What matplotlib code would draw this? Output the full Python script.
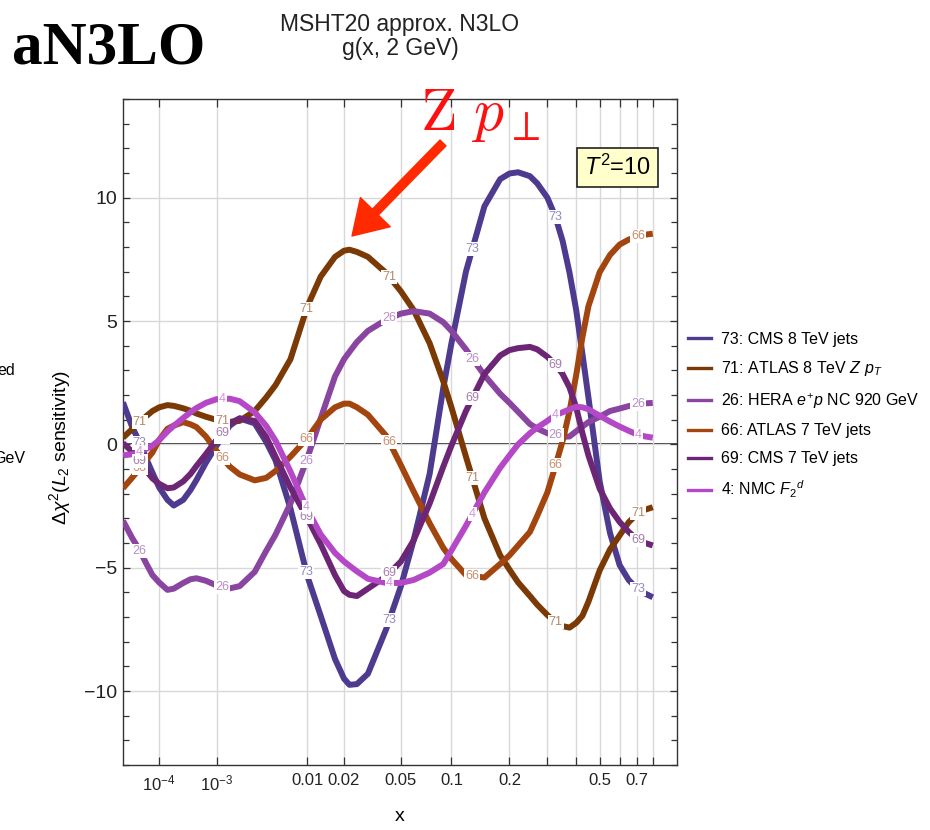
import numpy as np
import matplotlib
matplotlib.use("Agg")
import matplotlib.pyplot as plt
from matplotlib.lines import Line2D
from matplotlib.ticker import MultipleLocator
from matplotlib.colors import to_rgb

plt.rcParams['font.family'] = ['Liberation Sans', 'DejaVu Sans']
plt.rcParams['mathtext.fontset'] = 'custom'
plt.rcParams['mathtext.rm'] = 'Liberation Sans'
plt.rcParams['mathtext.it'] = 'Liberation Sans:italic'
plt.rcParams['mathtext.bf'] = 'Liberation Sans:bold'

# x grid shared by all curves
x = [1e-5, 2e-5, 3e-5, 5e-5, 7e-5, 1e-4, 1.5e-4, 2e-4, 3e-4, 4e-4, 5e-4, 7e-4,
     1e-3, 1.5e-3, 2e-3, 3e-3, 4e-3, 5e-3, 7e-3, 0.01, 0.013, 0.017, 0.02, 0.022,
     0.025, 0.03, 0.04, 0.05, 0.06, 0.075, 0.09, 0.1, 0.12, 0.15, 0.18, 0.2,
     0.22, 0.25, 0.27, 0.3, 0.325, 0.35, 0.375, 0.4, 0.425, 0.45, 0.5, 0.55,
     0.6, 0.65, 0.7, 0.75, 0.8]

# delta chi^2 (L2 sensitivity) per dataset
cms8 = [1.7, 0.7, 0.2, -0.6, -1.15, -1.75, -2.25, -2.48, -2.25, -1.85, -1.45, -0.75,
        -0.05, 0.75, 1.05, 0.85, 0.1, -0.65, -2.6, -5.35, -6.95, -8.7, -9.5, -9.75,
        -9.72, -9.3, -7.5, -5.75, -3.9, -1.2, 2.3, 4.1, 7.0, 9.65, 10.75, 10.98,
        11.03, 10.87, 10.58, 10.0, 9.25, 8.25, 6.95, 5.45, 3.66, 1.9, -1.5, -3.6,
        -4.9, -5.5, -5.85, -6.05, -6.2]
atlas8_zpt = [0.27, 0.62, 0.85, 1.15, 1.35, 1.5, 1.59, 1.56, 1.46, 1.36, 1.25, 1.12,
              0.99, 0.91, 0.95, 1.35, 1.9, 2.4, 3.45, 5.6, 6.8, 7.6, 7.85, 7.89,
              7.8, 7.6, 6.95, 6.2, 5.45, 4.1, 2.55, 1.5, -0.5, -3.0, -4.5, -5.08,
              -5.6, -6.15, -6.5, -6.92, -7.2, -7.37, -7.43, -7.24, -6.95, -6.38, -5.11, -4.26,
              -3.69, -3.16, -2.82, -2.65, -2.55]
hera = [-3.1, -3.8, -4.2, -4.85, -5.3, -5.6, -5.9, -5.85, -5.62, -5.47, -5.43, -5.53,
        -5.72, -5.84, -5.75, -5.17, -4.32, -3.66, -2.4, -0.55, 1.05, 2.75, 3.45, 3.75,
        4.15, 4.6, 5.05, 5.3, 5.4, 5.3, 4.95, 4.6, 3.85, 2.8, 2.05, 1.68,
        1.32, 0.82, 0.64, 0.45, 0.37, 0.3, 0.32, 0.53, 0.72, 0.9, 1.12, 1.35,
        1.45, 1.55, 1.62, 1.66, 1.68]
atlas7 = [-1.78, -1.35, -1.05, -0.63, -0.33, 0.18, 0.63, 0.76, 0.9, 0.81, 0.7, 0.32,
          -0.27, -0.9, -1.22, -1.46, -1.36, -1.08, -0.5, 0.25, 1.0, 1.5, 1.65, 1.65,
          1.5, 1.2, 0.35, -0.85, -1.9, -3.2, -4.2, -4.65, -5.3, -5.4, -4.85, -4.5,
          -4.1, -3.55, -2.9, -1.95, -0.9, 0.13, 1.35, 2.8, 4.35, 5.6, 6.98, 7.68,
          8.1, 8.3, 8.42, 8.5, 8.54]
cms7 = [0.05, -0.3, -0.58, -1.08, -1.38, -1.6, -1.78, -1.75, -1.5, -1.2, -0.88, -0.4,
        0.18, 0.85, 1.05, 0.95, 0.3, -0.5, -1.75, -3.0, -4.05, -5.3, -5.95, -6.1,
        -6.15, -5.85, -5.35, -4.75, -3.9, -2.4, -0.9, -0.05, 1.35, 2.85, 3.6, 3.82,
        3.9, 3.95, 3.85, 3.55, 3.25, 2.85, 2.3, 1.5, 0.45, -0.45, -1.8, -2.6,
        -3.15, -3.55, -3.85, -4.0, -4.1]
nmc = [-0.45, -0.4, -0.33, -0.18, -0.05, 0.17, 0.52, 0.75, 1.07, 1.3, 1.47, 1.68,
       1.83, 1.85, 1.75, 1.3, 0.75, 0.15, -1.1, -2.65, -3.65, -4.4, -4.75, -4.92,
       -5.15, -5.45, -5.62, -5.62, -5.5, -5.2, -4.85, -4.3, -3.3, -1.95, -0.95, -0.45,
       0.0, 0.45, 0.68, 0.95, 1.18, 1.3, 1.42, 1.52, 1.5, 1.42, 1.16, 0.92,
       0.72, 0.55, 0.4, 0.32, 0.27]

series = [
    ("73", "73: CMS 8 TeV jets", cms8, "#4e3a8e"),
    ("71", r"71: ATLAS 8 TeV $Z\ p_T$", atlas8_zpt, "#7b3a05"),
    ("26", r"26: HERA $e^{+}p$ NC 920 GeV", hera, "#8a45a0"),
    ("66", "66: ATLAS 7 TeV jets", atlas7, "#a3450f"),
    ("69", "69: CMS 7 TeV jets", cms7, "#6c2675"),
    ("4", r"4: NMC $F_2{}^{d}$", nmc, "#b548c6"),
]

# where the numeric tags sit along each curve
label_x = [3.3e-5, 1.2e-3, 9.8e-3, 0.042, 0.13, 0.326, 0.707]
x_ticks = [1e-4, 1e-3, 0.01, 0.02, 0.05, 0.1, 0.2, 0.3, 0.4, 0.5, 0.6, 0.7, 0.8]
x_ticklabels = [r"$10^{-4}$", r"$10^{-3}$", "0.01", "0.02", "0.05", "0.1", "0.2",
                "", "", "0.5", "", "0.7", ""]


def fwd(v):
    v = np.asarray(v, dtype=float)
    return np.sign(v) * np.abs(v) ** 0.2


def inv(v):
    v = np.asarray(v, dtype=float)
    return np.sign(v) * np.abs(v) ** 5


def lighten(c, f=0.4):
    r, g, b = to_rgb(c)
    return (r + (1 - r) * f, g + (1 - g) * f, b + (1 - b) * f)


fig = plt.figure(figsize=(9.3, 8.3), dpi=100)
ax = fig.add_axes([123 / 930, 1 - 765 / 830, 554 / 930, 666 / 830])
ax.set_xscale('function', functions=(fwd, inv))
ax.set_xlim(1e-5, 0.978)
ax.set_ylim(-13, 14)

ax.grid(True, which='major', color='#d8d8d8', lw=1.0, zorder=0)
ax.axhline(0, color='#222222', lw=1.3, zorder=1)

handles = []
xu = fwd(x)
for num, name, vals, col in series:
    ax.plot(x, vals, color=col, lw=4.3, solid_capstyle='butt',
            solid_joinstyle='round', zorder=3)
    handles.append(Line2D([], [], color=col, lw=2.4))
    for lx in label_x:
        ly = np.interp(fwd(lx), xu, vals)
        ax.text(lx, ly, num, color=lighten(col), fontsize=9, ha='center', va='center',
                zorder=6, bbox=dict(boxstyle='square,pad=0.08', fc='white', ec='none'))

ax.set_xticks(x_ticks, labels=x_ticklabels)
ax.set_yticks([-10, -5, 0, 5, 10])
ax.yaxis.set_minor_locator(MultipleLocator(1))
ax.xaxis.set_minor_locator(plt.NullLocator())
ax.tick_params(which='both', direction='in', top=True, right=True, color='#333333',
               width=0.9, labelcolor='#222222', labelsize=14)
ax.tick_params(axis='x', length=6, pad=6, labelsize=12)
ax.tick_params(axis='y', which='major', length=5, pad=4)
ax.tick_params(axis='y', which='minor', length=4)
for s in ax.spines.values():
    s.set_color('#333333')
    s.set_linewidth(1.0)

ax.set_ylabel(r"$\Delta\chi^2$($L_2$ sensitivity)", fontsize=14)
ax.yaxis.set_label_coords(-0.09, 0.477)
ax.set_xlabel("x", fontsize=14)
ax.xaxis.set_label_coords(0.5, -0.064)

# T^2 tag
ax.text(0.8926, 0.897, r"$T^2$=10", transform=ax.transAxes, ha='center', va='center',
        fontsize=17, zorder=7,
        bbox=dict(boxstyle='square,pad=0.3', fc='#ffffcc', ec='#222222', lw=1.2))

# red arrow to the Z pT peak
ax.annotate("", xy=(0.4134, 0.7943), xytext=(0.5776, 0.934), xycoords='axes fraction',
            textcoords='axes fraction', annotation_clip=False, zorder=8,
            arrowprops=dict(arrowstyle='simple,head_width=1.5,head_length=1.2,tail_width=0.3',
                            mutation_scale=20, color='#ff2a00', shrinkA=0, shrinkB=0))
ax.text(0.536, 0.953, r"$\mathrm{Z}\ p_\perp$", transform=ax.transAxes, color='#ff1010',
        fontsize=43, math_fontfamily='cm', ha='left', va='baseline', clip_on=False, zorder=8)

fig.legend(handles, [s[1] for s in series], loc='center left',
           bbox_to_anchor=(688 / 930, 1 - 416 / 830), frameon=False, fontsize=11.5,
           handlelength=1.45, handletextpad=0.6, labelspacing=0.8,
           borderpad=0, borderaxespad=0)

fig.text(12 / 930, 1 - 63 / 830, "aN3LO", family='Liberation Serif', weight='bold',
         fontsize=44, va='baseline', ha='left')
fig.text(400 / 930, 1 - 24 / 830, "MSHT20 approx. N3LO", ha='center', va='center',
         fontsize=16.5, color='#222222')
fig.text(400 / 930, 1 - 49 / 830, "g(x, 2 GeV)", ha='center', va='center',
         fontsize=16.5, color='#222222')

# fragments of the neighbouring panel's legend
fig.text(15 / 930, 1 - 370 / 830, "ed", ha='right', va='center', fontsize=11.5)
fig.text(25 / 930, 1 - 458 / 830, "GeV", ha='right', va='center', fontsize=11.5)

fig.savefig("out.png", dpi=100)
